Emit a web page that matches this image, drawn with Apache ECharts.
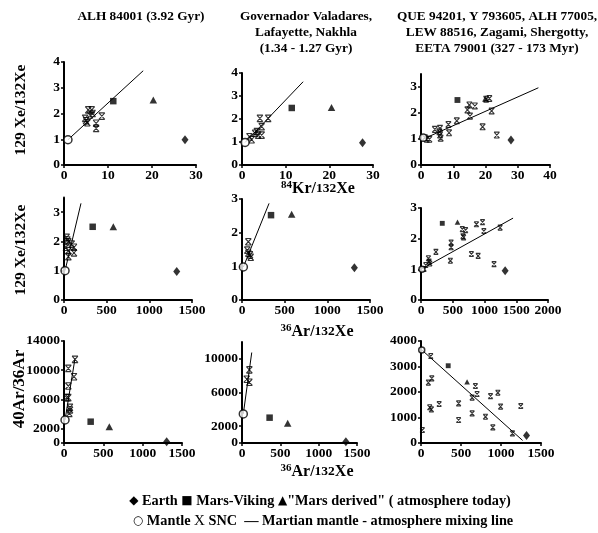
<!DOCTYPE html>
<html><head><meta charset="utf-8">
<script src="https://cdn.jsdelivr.net/npm/echarts@6/dist/echarts.min.js"></script>
<style>html,body{margin:0;padding:0;background:#fff}#c{width:598px;height:533px}</style>
</head><body><div id="c"></div>
<script>
// ---------- DATA ----------
// Row 1: 129Xe/132Xe vs 84Kr/132Xe
const p1SNC = [[4.8,1.81],[5.0,1.72],[5.3,1.64],[5.5,2.14],[6.3,2.14],[5.9,1.94],[6.5,2.0],[7.3,1.62],[7.3,1.42],[8.6,1.9]];
const p1Earth = [[27.5,0.98]], p1Viking = [[11.2,2.48]], p1Derived = [[20.3,2.52]], p1Mantle = [[0.9,0.98]];
const p1Line = [[0.9,0.98],[18,3.66]];

const p2SNC = [[1.7,1.23],[2.2,1.1],[3.0,1.38],[3.4,1.45],[3.7,1.3],[4.5,1.3],[4.1,2.03],[6.0,2.03],[4.5,1.67]];
const p2Earth = [[27.6,0.97]], p2Viking = [[11.4,2.48]], p2Derived = [[20.5,2.5]], p2Mantle = [[0.7,0.98]];
const p2Line = [[0.7,0.98],[14.0,3.62]];

const p3SNC = [[1.8,0.99],[2.6,0.99],[1.2,1.05],[4.3,1.37],[5.7,1.28],[5.9,1.15],[6.1,1.03],[5.9,1.41],[8.5,1.56],[8.7,1.24],[11.1,1.7],[14.4,2.12],[15.0,2.31],[16.7,2.27],[15.2,1.88],[19.1,1.47],[20.2,2.53],[21.2,2.56],[21.9,2.08],[23.5,1.15]];
const p3Earth = [[27.9,0.96]], p3Viking = [[11.3,2.5]], p3Derived = [[20.0,2.55]], p3Mantle = [[0.7,1.05]];
const p3Line = [[0.7,1.0],[36.4,2.97]];

// Row 2: 129Xe/132Xe vs 36Ar/132Xe
const p4SNC = [[31,2.14],[51,1.99],[23,1.8],[51,1.68],[51,1.48],[90,1.91],[117,1.8],[117,1.61],[40,2.05]];
const p4Earth = [[1321,0.97]], p4Viking = [[336,2.5]], p4Derived = [[578,2.5]], p4Mantle = [[12,1.0]];
const p4Line = [[12,1.0],[199,3.3]];

const p5SNC = [[74,1.73],[62,1.48],[94,1.34],[102,1.27],[74,1.39]];
const p5Earth = [[1317,0.96]], p5Viking = [[340,2.52]], p5Derived = [[582,2.55]], p5Mantle = [[16,0.98]];
const p5Line = [[16,0.98],[317,2.87]];

const p6SNC = [[48,1.01],[75,1.14],[117,1.36],[128,1.25],[139,1.19],[235,1.57],[474,1.87],[474,1.72],[463,1.28],[650,2.31],[660,2.08],[703,2.28],[671,2.04],[794,1.50],[873,2.47],[900,1.44],[969,2.54],[990,2.25],[1150,1.17],[1246,2.36]];
const p6Earth = [[1325,0.95]], p6Viking = [[335,2.5]], p6Derived = [[575,2.54]], p6Mantle = [[15,1.0]];
const p6Line = [[0,1.0],[1450,2.67]];

// Row 3: 40Ar/36Ar vs 36Ar/132Xe
const p7SNC = [[55,10240],[55,7820],[34,6220],[55,6220],[76,4890],[76,4530],[68,4070],[127,9100],[140,11480]];
const p7Earth = [[1305,180]], p7Viking = [[339,2926]], p7Derived = [[576,2240]], p7Mantle = [[13,3155]];
const p7Line = [[13,3155],[140,11600]];

const p8SNC = [[96,8690],[62,7580],[96,7220]];
const p8Earth = [[1355,160]], p8Viking = [[360,3010]], p8Derived = [[596,2340]], p8Mantle = [[17,3450]];
const p8Line = [[17,3450],[127,10750]];

const p9SNC = [[17,510],[122,3410],[92,2365],[135,2535],[109,1400],[130,1320],[227,1530],[470,1555],[470,900],[639,1160],[639,1780],[680,2235],[701,1920],[806,1030],[869,1840],[898,615],[961,1970],[995,1425],[1143,380],[1247,1450]];
const p9Earth = [[1319,290]], p9Viking = [[340,3030]], p9Derived = [[576,2400]], p9Mantle = [[9,3650]];
const p9Line = [[10,3650],[1270,100]];

// axis ranges / ticks
const xMax = [30,30,40,1500,1500,2000,1500,1500,1500];
const xInterval = [10,10,10,500,500,500,500,500,500];
const yMax = [4,4,3.5,3.5,3,3,14000,12000,4000];
const yInterval = [1,1,1,1,1,1,2000,2000,1000];
const yLabels = [[0,1,2,3,4],[0,1,2,3,4],[0,1,2,3],[0,1,2,3],[0,1,2,3],[0,1,2,3],
  [0,2000,6000,10000,14000],[0,2000,6000,10000],[0,1000,2000,3000,4000]];

const titles = ['ALH 84001 (3.92 Gyr)',
  'Governador Valadares,\nLafayette, Nakhla\n(1.34 - 1.27 Gyr)',
  'QUE 94201, Y 793605, ALH 77005,\nLEW 88516, Zagami, Shergotty,\nEETA 79001 (327 - 173 Myr)'];
const yNames = ['129 Xe/132Xe','129 Xe/132Xe','40Ar/36Ar'];
const legend1 = ['\u25C6','Earth','\u25A0','Mars-Viking','\u25B2','"Mars derived" ( atmosphere today)'];
const legend2 = ['\u25CB','Mantle','X','SNC','\u2014','Martian mantle - atmosphere mixing line'];

// ---------- LAYOUT ----------
const panels = [
  {snc:p1SNC,earth:p1Earth,viking:p1Viking,derived:p1Derived,mantle:p1Mantle,line:p1Line},
  {snc:p2SNC,earth:p2Earth,viking:p2Viking,derived:p2Derived,mantle:p2Mantle,line:p2Line},
  {snc:p3SNC,earth:p3Earth,viking:p3Viking,derived:p3Derived,mantle:p3Mantle,line:p3Line},
  {snc:p4SNC,earth:p4Earth,viking:p4Viking,derived:p4Derived,mantle:p4Mantle,line:p4Line},
  {snc:p5SNC,earth:p5Earth,viking:p5Viking,derived:p5Derived,mantle:p5Mantle,line:p5Line},
  {snc:p6SNC,earth:p6Earth,viking:p6Viking,derived:p6Derived,mantle:p6Mantle,line:p6Line},
  {snc:p7SNC,earth:p7Earth,viking:p7Viking,derived:p7Derived,mantle:p7Mantle,line:p7Line},
  {snc:p8SNC,earth:p8Earth,viking:p8Viking,derived:p8Derived,mantle:p8Mantle,line:p8Line},
  {snc:p9SNC,earth:p9Earth,viking:p9Viking,derived:p9Derived,mantle:p9Mantle,line:p9Line}
];
const boxes = [
  [64,62,132,103],[242,73,131,92],[421,74,129,91],
  [64,197.5,128,102.5],[242,199,128,101],[421,208,127,92],
  [64,341,118,102],[242,342,115,101],[421,341,120,102]
];
const symScale = [1,1,0.9,1,1,0.75,1,1,0.75];

const FONT = '"Liberation Serif","Times New Roman",serif';
const SNC_PATH = 'path://M0,0L10,0M0,12L10,12M0,0L10,12M10,0L0,12';

const grid = [], xAxis = [], yAxis = [], series = [];
boxes.forEach((b,i)=>{
  grid.push({left:b[0], top:b[1], width:b[2], height:b[3], containLabel:false, outerBoundsMode:'none'});
  const mk = () => ({
    axisLine:{show:true, onZero:false, lineStyle:{color:'#000', width:2}},
    axisTick:{show:true, length:3, lineStyle:{color:'#000', width:1.5}},
    axisLabel:{color:'#000', fontFamily:FONT, fontWeight:'bold', fontSize:13.5, margin:4,
      formatter:(v)=>String(v)},
    splitLine:{show:false}
  });
  xAxis.push(Object.assign({type:'value', gridIndex:i, min:0, max:xMax[i], interval:xInterval[i]}, mk()));
  const ya = Object.assign({type:'value', gridIndex:i, min:0, max:yMax[i], interval:yInterval[i]}, mk());
  ya.axisLabel.customValues = yLabels[i];
  ya.axisTick.customValues = yLabels[i];
  yAxis.push(ya);
  const p = panels[i], s = symScale[i];
  const base = {type:'scatter', xAxisIndex:i, yAxisIndex:i, silent:true};
  series.push(Object.assign({}, base, {type:'line', data:p.line, symbol:'none', lineStyle:{color:'#000', width:1}, z:2}));
  series.push(Object.assign({}, base, {data:p.snc, symbol:SNC_PATH, symbolSize:[5.5*s+0.5,6*s+0.5],
    itemStyle:{color:'rgba(0,0,0,0)', borderColor:'#000', borderWidth:1.1}, z:3}));
  series.push(Object.assign({}, base, {data:p.earth, symbol:'diamond', symbolSize:[7,9], itemStyle:{color:'#000'}, z:4}));
  series.push(Object.assign({}, base, {data:p.viking, symbol:'rect', symbolSize:6.5*s, itemStyle:{color:'#000'}, z:4}));
  series.push(Object.assign({}, base, {data:p.derived, symbol:'triangle', symbolSize:[7.5*s,7*s], itemStyle:{color:'#000'}, z:4}));
  series.push(Object.assign({}, base, {data:p.mantle, symbol:'circle', symbolSize:8*s,
    itemStyle:{color:'#fff', borderColor:'#000', borderWidth:1.5}, z:5}));
});

const graphic = [];
function txt(x,y,text,size,extra){
  return Object.assign({type:'text', x:x, y:y, silent:true, style:{text:text, fill:'#000',
    font:'bold '+size+'px '+FONT, textAlign:'center', align:'center',
    textVerticalAlign:'middle', verticalAlign:'middle', lineHeight:16}}, extra||{});
}
// panel titles
graphic.push(txt(141,17,titles[0],13.3));
graphic.push(txt(306,33,titles[1],13.3));
graphic.push(txt(497,33,titles[2],13.3));
// y axis names (rotated)
graphic.push(txt(21,110,yNames[0],15.5,{rotation:Math.PI/2}));
graphic.push(txt(21,250,yNames[1],15.5,{rotation:Math.PI/2}));
graphic.push(txt(20,389,yNames[2],17,{rotation:Math.PI/2}));
// x axis names with small leading numbers
const richX = {
  s:{fontFamily:FONT, fontWeight:'bold', fontSize:11, verticalAlign:'top', lineHeight:18, padding:[0,0,4,0]},
  m:{fontFamily:FONT, fontWeight:'bold', fontSize:13.5, lineHeight:18},
  b:{fontFamily:FONT, fontWeight:'bold', fontSize:16, lineHeight:18}
};
function xname(x,y,a,b){
  return {type:'text', x:x, y:y, silent:true, style:{text:'{s|'+a+'}{b|'+b+'}{m|132}{b|Xe}',
    rich:richX, fill:'#000', textAlign:'center', align:'center', textVerticalAlign:'middle', verticalAlign:'middle'}};
}
graphic.push(xname(318,189,'84','Kr/'));
graphic.push(xname(317,332,'36','Ar/'));
graphic.push(xname(317,472,'36','Ar/'));
// legend
const richL = {
  t:{fontFamily:FONT, fontWeight:'bold', fontSize:14.3},
  y:{fontFamily:'"DejaVu Sans",sans-serif', fontSize:12},
  x:{fontFamily:FONT, fontWeight:'normal', fontSize:15}
};
const l1 = '{y|'+legend1[0]+'} {t|'+legend1[1]+'} {y|'+legend1[2]+'} {t|'+legend1[3]+'} {y|'+legend1[4]+'}{t|'+legend1[5]+'}';
const l2 = '{y|'+legend2[0]+'} {t|'+legend2[1]+'} {x|'+legend2[2]+'} {t|'+legend2[3]+'}  {t|'+legend2[4]+' '+legend2[5]+'}';
graphic.push({type:'text', x:320, y:501, silent:true, style:{text:l1, rich:richL, fill:'#000', font:'bold 14.3px '+FONT, textAlign:'center', align:'center', textVerticalAlign:'middle', verticalAlign:'middle'}});
graphic.push({type:'text', x:323, y:521, silent:true, style:{text:l2, rich:richL, fill:'#000', font:'bold 14.3px '+FONT, textAlign:'center', align:'center', textVerticalAlign:'middle', verticalAlign:'middle'}});

const chart = echarts.init(document.getElementById('c'), null, {renderer:'canvas'});
chart.setOption({animation:false, backgroundColor:'#fff', grid, xAxis, yAxis, series, graphic});
</script>
</body></html>
